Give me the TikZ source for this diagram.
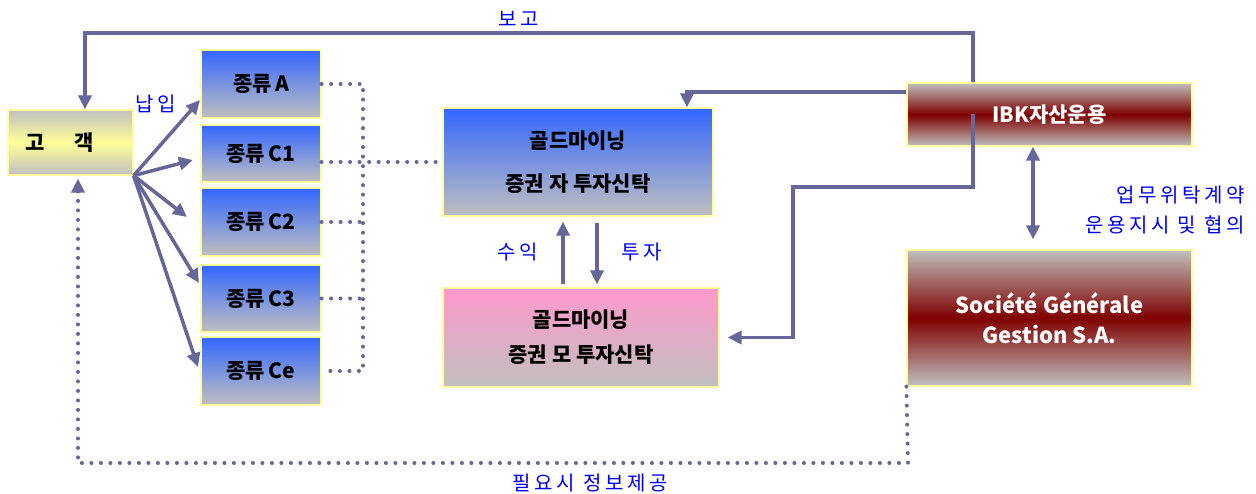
\documentclass[tikz,border=0pt]{standalone}
\usepackage{fontspec}
\setmainfont{Noto Sans CJK KR}
\newfontfamily\lblfont[LetterSpace=18]{Noto Sans CJK KR}
\usetikzlibrary{arrows.meta}
\definecolor{lnc}{RGB}{102,102,153}
\definecolor{edgey}{RGB}{255,255,153}
\definecolor{topblue}{RGB}{51,102,255}
\definecolor{botgray}{RGB}{192,192,192}
\definecolor{pinktop}{RGB}{255,153,204}
\definecolor{darkred}{RGB}{128,0,0}
\definecolor{lblue}{RGB}{0,0,255}

\begin{document}
\begin{tikzpicture}[x=1pt,y=-1pt,
    box/.style={draw=edgey, line width=1.2pt, inner sep=0pt, align=center, font=\bfseries\fontsize{21}{35}\selectfont},
    bluebox/.style={box, top color=topblue, bottom color=botgray},
    redbox/.style={box, top color=botgray, bottom color=botgray, middle color=darkred, text=white},
    conn/.style={draw=lnc, line width=3.5pt, -{Triangle[length=14pt,width=13pt]}},
    dotline/.style={draw=lnc, line width=4pt, line cap=round, dash pattern=on 0pt off 9.5pt},
    lbl/.style={text=lblue, font=\lblfont\fontsize{20}{30}\selectfont}]
    \useasboundingbox (0,0) rectangle (1256,494);

    % boxes
    \node[box, top color=botgray, bottom color=botgray, middle color=edgey, minimum width=125pt, minimum height=65pt] (kok) at (70.5,142.5) {\hspace*{-22pt}고\hspace{30pt}객};
    \foreach \n/\t/\cy/\h in {jA/A/84/68, jC1/C1/153.5/57, jC2/C2/222/68, jC3/C3/298.5/67, jCe/Ce/371/68}
        \node[bluebox, minimum width=120pt, minimum height=\h pt] (\n) at (261,\cy) {종류\,\t};
    \node[bluebox, font=\bfseries\fontsize{21}{43}\selectfont, minimum width=270pt, minimum height=108pt] (ja) at (578,162) {골드마이닝\\증권 자 투자신탁};
    \node[box, top color=pinktop, bottom color=botgray, minimum width=276pt, minimum height=99pt] (mo) at (581,337.5) {골드마이닝\\증권 모 투자신탁};
    \node[redbox, minimum width=285pt, minimum height=63pt] (ibk) at (1049.5,114.5) {IBK자산운용};
    \node[redbox, font=\bfseries\fontsize{22}{30}\selectfont, minimum width=285pt, minimum height=136pt] (sg) at (1049.5,318) {Société Générale\\Gestion S.A.};

    % 보고
    \coordinate (bgR) at (973,33);
    \coordinate (bgL) at (85,33);
    \draw[conn] (ibk.north -| bgR) -- (bgR) -- (bgL) -- (kok.north -| bgL);
    \node[lbl] at (519,19) {보고};

    % 납입
    \foreach \n/\tx/\ty in {jA/200/100, jC1/193/160, jC2/187/217, jC3/199/283, jCe/198/367} {
        \coordinate (\n tip) at (\tx,\ty);
        \draw[conn] (kok.south east) -- (\n tip);
    }
    \node[lbl] at (156,104) {납입};

    % dotted links
    \coordinate (bus) at (363,0);
    \draw[dotline] (jA.east) -- (jA.east -| bus) -- (jCe.east -| bus) -- (jCe.east);
    \foreach \n in {jC2, jC3}
        \draw[dotline] (\n.east) -- (\n.east -| bus);
    \draw[dotline] (jC1.east |- ja.west) -- (ja.west);

    % IBK -> funds
    \coordinate (inJ) at (687,92);
    \draw[conn] ([yshift=22.5pt]ibk.west) -- (inJ) -- (ja.north -| inJ);
    \coordinate (mbA) at (973,187);
    \coordinate (mbB) at (793,187);
    \draw[conn, shorten >=8pt] (ibk.center -| mbA) -- (mbA) -- (mbB) -- (mbB |- mo.east) -- (mo.east);

    % 수익 / 투자
    \draw[conn, shorten >=5pt, shorten <=3pt] ([xshift=-18pt]mo.north) -- ([xshift=-15pt]ja.south);
    \draw[conn, shorten >=3pt, shorten <=6pt] ([xshift=19pt]ja.south) -- ([xshift=16pt]mo.north);
    \node[lbl] at (518,252) {수익};
    \node[lbl] at (642,252) {투자};

    % 업무위탁
    \draw[conn, {Triangle[length=14pt,width=13pt]}-{Triangle[length=14pt,width=13pt]}, shorten >=10pt] ([xshift=-16.5pt]ibk.south) -- ([xshift=-16.5pt]sg.north);
    \node[lbl, align=right, anchor=east] at (1248,210) {업무위탁계약\\운용지시 및 협의};

    % 필요시 정보제공
    \coordinate (infR) at (908,463);
    \coordinate (infL) at (78,463);
    \draw[dotline] (sg.south west) -- (infR) -- (infL) -- ([yshift=-14pt]kok.south -| infL);
    \draw[conn, shorten >=3pt] ([yshift=-16pt]kok.south -| infL) -- (kok.south -| infL);
    \node[lbl] at (590,483) {필요시 정보제공};
\end{tikzpicture}
\end{document}
